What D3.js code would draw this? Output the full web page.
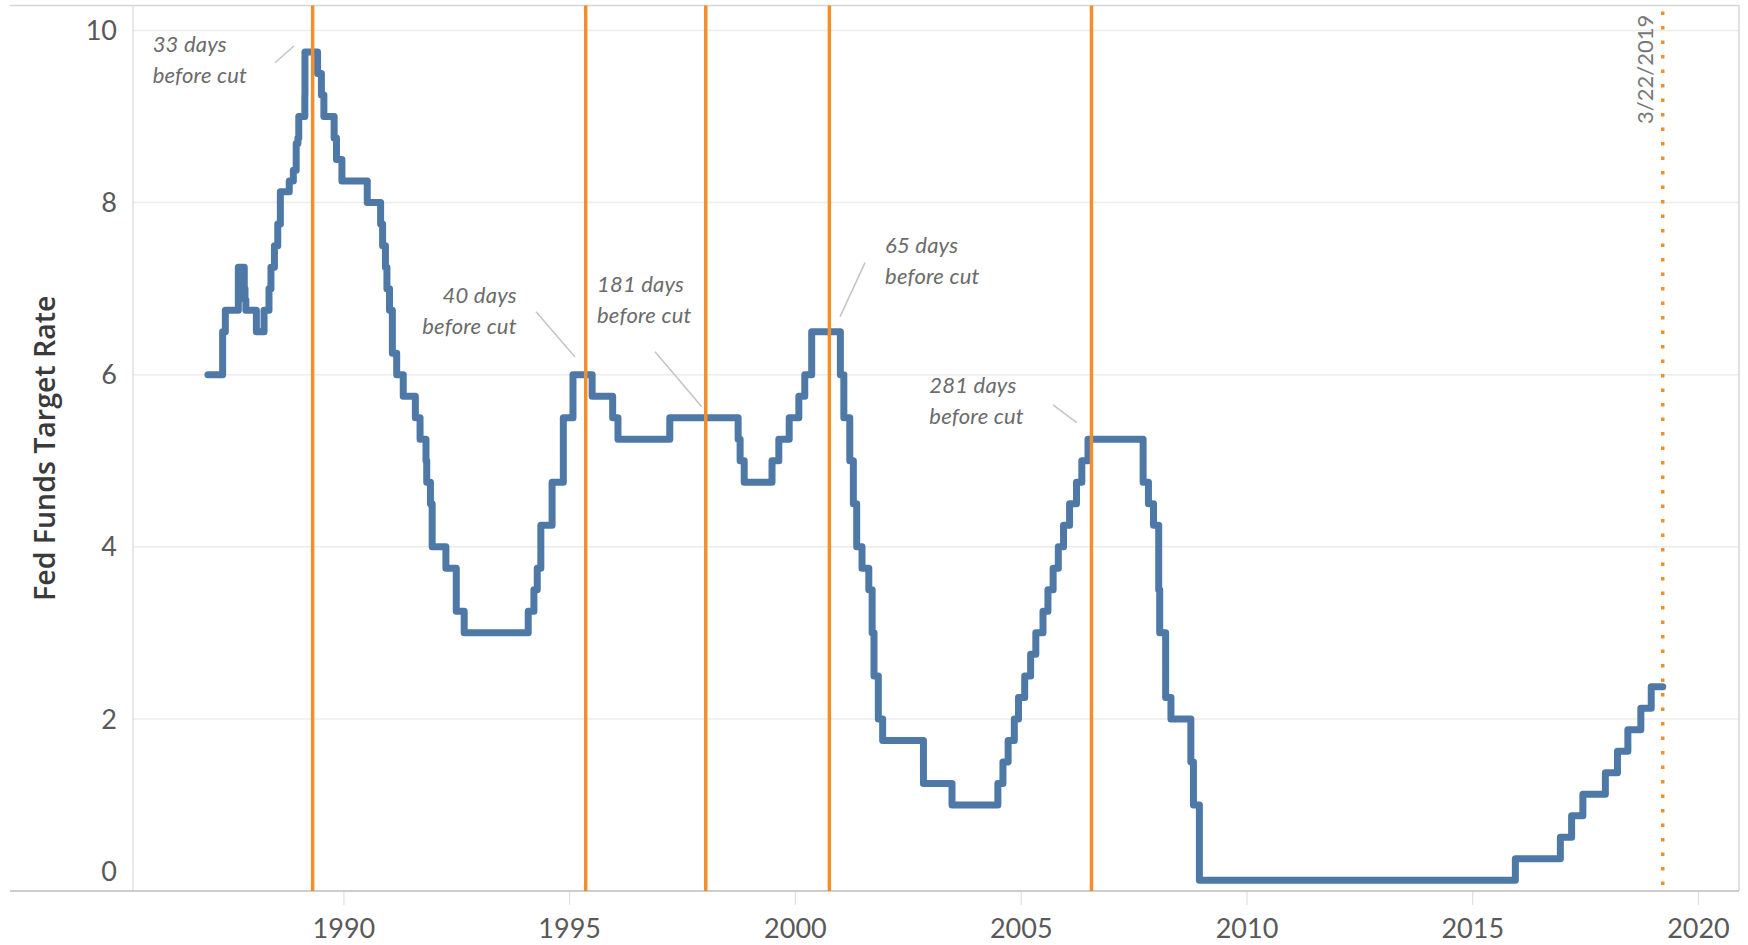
<!DOCTYPE html>
<html>
<head>
<meta charset="utf-8">
<script src="https://cdn.jsdelivr.net/npm/d3@7"></script>
<style>
  html, body { margin: 0; padding: 0; background: #fff; }
  svg { display: block; }
</style>
</head>
<body>
<svg id="chart" width="1748" height="945"></svg>
<script>
// Fed funds target rate: date of each change and the new target (%)
const changeDates = [
  "1987-01-01","1987-04-30","1987-05-22","1987-09-04","1987-10-22","1987-10-28","1987-11-04",
  "1988-01-28","1988-03-30","1988-05-09","1988-05-25","1988-06-22","1988-07-19","1988-08-09",
  "1988-10-20","1988-11-22","1988-12-15","1988-12-29","1989-01-05","1989-02-23","1989-02-24",
  "1989-06-06","1989-07-07","1989-07-27","1989-10-18","1989-11-06","1989-12-20",
  "1990-07-13","1990-10-29","1990-11-14","1990-12-07","1990-12-19",
  "1991-01-09","1991-02-01","1991-03-08","1991-04-30","1991-08-06","1991-09-13","1991-10-31",
  "1991-11-06","1991-12-06","1991-12-20",
  "1992-04-09","1992-07-02","1992-09-04",
  "1994-02-04","1994-03-22","1994-04-18","1994-05-17","1994-08-16","1994-11-15",
  "1995-02-01","1995-07-06","1995-12-19","1996-01-31","1997-03-25",
  "1998-09-29","1998-10-15","1998-11-17","1999-06-30","1999-08-24","1999-11-16",
  "2000-02-02","2000-03-21","2000-05-16",
  "2001-01-03","2001-01-31","2001-03-20","2001-04-18","2001-05-15","2001-06-27","2001-08-21",
  "2001-09-17","2001-10-02","2001-11-06","2001-12-11",
  "2002-11-06","2003-06-25",
  "2004-06-30","2004-08-10","2004-09-21","2004-11-10","2004-12-14",
  "2005-02-02","2005-03-22","2005-05-03","2005-06-30","2005-08-09","2005-09-20","2005-11-01","2005-12-13",
  "2006-01-31","2006-03-28","2006-05-10","2006-06-29",
  "2007-09-18","2007-10-31","2007-12-11",
  "2008-01-22","2008-01-30","2008-03-18","2008-04-30","2008-10-08","2008-10-29","2008-12-16",
  "2015-12-16","2016-12-14","2017-03-15","2017-06-14","2017-12-13",
  "2018-03-21","2018-06-13","2018-09-26","2018-12-19"
];
const targetRates = [
  6.0, 6.5, 6.75, 7.25, 7.0, 6.875, 6.75,
  6.5, 6.75, 7.0, 7.25, 7.5, 7.75, 8.125,
  8.25, 8.375, 8.6875, 8.75, 9.0, 9.25, 9.75,
  9.5, 9.25, 9.0, 8.75, 8.5, 8.25,
  8.0, 7.75, 7.5, 7.25, 7.0,
  6.75, 6.25, 6.0, 5.75, 5.5, 5.25, 5.0,
  4.75, 4.5, 4.0,
  3.75, 3.25, 3.0,
  3.25, 3.5, 3.75, 4.25, 4.75, 5.5,
  6.0, 5.75, 5.5, 5.25, 5.5,
  5.25, 5.0, 4.75, 5.0, 5.25, 5.5,
  5.75, 6.0, 6.5,
  6.0, 5.5, 5.0, 4.5, 4.0, 3.75, 3.5,
  3.0, 2.5, 2.0, 1.75,
  1.25, 1.0,
  1.25, 1.5, 1.75, 2.0, 2.25,
  2.5, 2.75, 3.0, 3.25, 3.5, 3.75, 4.0, 4.25,
  4.5, 4.75, 5.0, 5.25,
  4.75, 4.5, 4.25,
  3.5, 3.0, 2.25, 2.0, 1.5, 1.0, 0.125,
  0.375, 0.625, 0.875, 1.125, 1.375,
  1.625, 1.875, 2.125, 2.375
];
const lastDate = "2019-03-22";

// Reference marks before each rate-cut cycle
const signalDates = ["1989-04-27", "1995-05-15", "1998-01-10", "2000-10-06", "2006-07-27"];
const signalLabels = ["33 days", "40 days", "181 days", "65 days", "281 days"];
const signalSubLabel = "before cut";
const todayLabel = "3/22/2019";

const yTicks = [0, 2, 4, 6, 8, 10];
const axisTitle = "Fed Funds Target Rate";

// ---- layout ----
const parse = d3.timeParse("%Y-%m-%d");
const svg = d3.select("#chart");
const plotLeft = 133, plotRight = 1739, plotTop = 5.5, plotBottom = 891;
const labelFont = "Lato, 'Open Sans', sans-serif";

const x = d3.scaleTime()
  .domain([parse("1985-05-05"), parse("2020-11-28")])
  .range([plotLeft, plotRight]);
const y = d3.scaleLinear().domain([0, 10]).range([plotBottom, 30.5]);

const series = changeDates.map((d, i) => ({ date: parse(d), value: targetRates[i] }));
series.push({ date: parse(lastDate), value: targetRates[targetRates.length - 1] });

const valueAt = date => {
  let v = series[0].value;
  for (const p of series) { if (p.date <= date) v = p.value; }
  return v;
};

// gridlines
svg.append("g").selectAll("line")
  .data(yTicks.filter(t => t > 0))
  .join("line")
  .attr("x1", plotLeft).attr("x2", plotRight)
  .attr("y1", d => y(d)).attr("y2", d => y(d))
  .attr("stroke", "#ececec").attr("stroke-width", 1.5);

// frame
svg.append("line").attr("x1", 10).attr("x2", plotRight).attr("y1", plotTop).attr("y2", plotTop)
  .attr("stroke", "#d6d6d6").attr("stroke-width", 1.5);
svg.append("line").attr("x1", plotRight).attr("x2", plotRight).attr("y1", plotTop).attr("y2", plotBottom)
  .attr("stroke", "#d6d6d6").attr("stroke-width", 1.5);
svg.append("line").attr("x1", plotLeft).attr("x2", plotLeft).attr("y1", plotTop).attr("y2", plotBottom)
  .attr("stroke", "#d9d9d9").attr("stroke-width", 1.2);

// x axis
const xAxis = d3.axisBottom(x)
  .ticks(d3.timeYear.every(5))
  .tickFormat(d3.timeFormat("%Y"))
  .tickSize(14).tickPadding(14);
const gx = svg.append("g").attr("transform", `translate(0,${plotBottom})`).call(xAxis);
gx.select(".domain").remove();
gx.selectAll(".tick line").attr("stroke", "#e0e0e0").attr("stroke-width", 1.2);
gx.selectAll(".tick text")
  .attr("fill", "#595959").attr("font-family", labelFont)
  .attr("font-weight", 400).attr("font-size", 27).attr("dy", "0.71em");
svg.append("line").attr("x1", 10).attr("x2", plotRight).attr("y1", plotBottom).attr("y2", plotBottom)
  .attr("stroke", "#bdbdbd").attr("stroke-width", 1.5);

// y axis labels
const yAxis = d3.axisLeft(y).tickValues(yTicks).tickSize(0).tickPadding(16);
const gy = svg.append("g").attr("transform", `translate(${plotLeft},0)`).call(yAxis);
gy.select(".domain").remove();
gy.selectAll(".tick text")
  .attr("fill", "#595959").attr("font-family", labelFont)
  .attr("font-weight", 400).attr("font-size", 27)
  .attr("dy", d => d === 0 ? "-0.4em" : "0.34em");

svg.append("text")
  .attr("transform", `translate(55,${(plotTop + plotBottom) / 2}) rotate(-90)`)
  .attr("text-anchor", "middle")
  .attr("font-family", "'Open Sans', sans-serif").attr("font-weight", 600)
  .attr("font-size", 28.5).attr("fill", "#3a3a3a")
  .text(axisTitle);

// rate line
svg.append("path")
  .datum(series)
  .attr("fill", "none")
  .attr("stroke", "#4e79a7")
  .attr("stroke-width", 7)
  .attr("stroke-linejoin", "round")
  .attr("stroke-linecap", "round")
  .attr("d", d3.line().x(d => x(d.date)).y(d => y(d.value)).curve(d3.curveStepAfter));

// vertical reference lines
svg.append("g").selectAll("line")
  .data(signalDates.map(parse))
  .join("line")
  .attr("x1", d => x(d)).attr("x2", d => x(d))
  .attr("y1", plotTop).attr("y2", plotBottom)
  .attr("stroke", "#f28e2b").attr("stroke-width", 3.5);

const today = parse(lastDate);
svg.append("line")
  .attr("x1", x(today)).attr("x2", x(today))
  .attr("y1", plotTop + 6).attr("y2", plotBottom - 4)
  .attr("stroke", "#f28e2b").attr("stroke-width", 3.5)
  .attr("stroke-dasharray", "3.5 11");

svg.append("text")
  .attr("transform", `translate(${x(today) - 10},124) rotate(-90)`)
  .attr("text-anchor", "start")
  .attr("font-family", labelFont).attr("font-size", 22)
  .attr("fill", "#777")
  .text(todayLabel);

// annotation callouts (offsets from the marked point)
const callouts = [
  { anchor: "start", tx: -160,   ty: 0,     l: [-37.7, 10.7, -18.7, -6] },
  { anchor: "end",   tx: -69,    ty: -71.7, l: [-49.7, -63, -10.7, -17.7] },
  { anchor: "start", tx: -108.7, ty: -126,  l: [-50.7, -66, -4, -11] },
  { anchor: "start", tx: 55.7,   ty: -78.4, l: [35.7, -69, 10.7, -15] },
  { anchor: "start", tx: -162.1, ty: -46,   l: [-38.4, -34.3, -14.7, -16.6] }
];

const ann = svg.append("g");
signalDates.forEach((ds, i) => {
  const d = parse(ds);
  const px = x(d), py = y(valueAt(d));
  const c = callouts[i];
  ann.append("line")
    .attr("x1", px + c.l[0]).attr("y1", py + c.l[1])
    .attr("x2", px + c.l[2]).attr("y2", py + c.l[3])
    .attr("stroke", "#c4c4c4").attr("stroke-width", 1.5);
  const t = ann.append("text")
    .attr("text-anchor", c.anchor)
    .attr("font-family", labelFont)
    .attr("font-style", "italic").attr("font-weight", 400)
    .attr("font-size", 22).attr("letter-spacing", 0.2)
    .attr("fill", "#6b6b6b");
  t.append("tspan").attr("x", px + c.tx).attr("y", py + c.ty).text(signalLabels[i]);
  t.append("tspan").attr("x", px + c.tx).attr("y", py + c.ty + 31).text(signalSubLabel);
});
</script>
</body>
</html>
